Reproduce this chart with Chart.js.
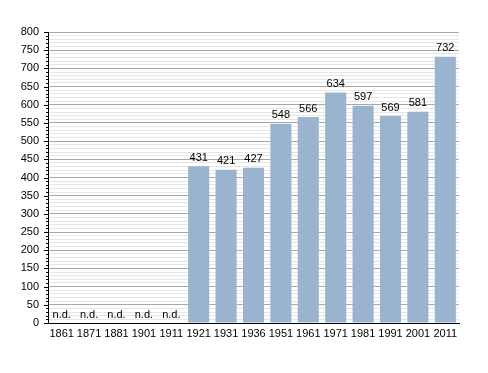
<!DOCTYPE html>
<html>
<head>
<meta charset="utf-8">
<script src="https://cdn.jsdelivr.net/npm/chart.js@4/dist/chart.umd.min.js"></script>
<style>
html,body{margin:0;padding:0;background:#fff;}
#wrap{width:488px;height:373px;}
</style>
</head>
<body>
<div id="wrap"><canvas id="c" width="488" height="373"></canvas></div>
<script>
const categories = ['1861','1871','1881','1901','1911','1921','1931','1936','1951','1961','1971','1981','1991','2001','2011'];
const population = [null,null,null,null,null,431,421,427,548,566,634,597,569,581,732];
const missingLabel = 'n.d.';
const yMax = 800;
const yMajorStep = 50;
const yMinorStep = 10;

const FONT = '"Liberation Sans", Arial, sans-serif';

const labelPlugin = {
  id: 'valueLabels',
  afterDatasetsDraw(chart) {
    const ctx = chart.ctx;
    const meta = chart.getDatasetMeta(0);
    const xs = chart.scales.x, ys = chart.scales.y;
    ctx.save();
    ctx.font = '11px ' + FONT;
    ctx.fillStyle = '#000';
    ctx.textAlign = 'center';
    ctx.textBaseline = 'bottom';
    population.forEach((v, i) => {
      if (v === null) {
        ctx.fillText(missingLabel, xs.getPixelForValue(i), ys.getPixelForValue(0) - 3);
      } else {
        const el = meta.data[i];
        ctx.fillText(String(v), el.x, el.y - 3);
      }
    });
    ctx.restore();
  }
};

const tickPlugin = {
  id: 'yTicks',
  afterDraw(chart) {
    const ctx = chart.ctx;
    const ys = chart.scales.y;
    const x0 = chart.chartArea.left;
    ctx.save();
    ctx.strokeStyle = '#000';
    ctx.lineWidth = 1;
    ys.ticks.forEach(t => {
      const y = Math.round(ys.getPixelForValue(t.value)) + 0.5;
      const len = (t.value % yMajorStep === 0) ? 4 : 2;
      ctx.beginPath();
      ctx.moveTo(x0 - len, y);
      ctx.lineTo(x0, y);
      ctx.stroke();
    });
    ctx.restore();
  }
};

new Chart(document.getElementById('c'), {
  type: 'bar',
  data: {
    labels: categories,
    datasets: [{
      data: population,
      backgroundColor: '#9ab3cf',
      borderWidth: 0,
      barPercentage: 0.77,
      categoryPercentage: 1.0
    }]
  },
  options: {
    responsive: false,
    animation: false,
    devicePixelRatio: 1,
    layout: { padding: { left: 0, right: 29, top: 32, bottom: 30 } },
    plugins: { legend: { display: false }, tooltip: { enabled: false } },
    scales: {
      x: {
        grid: { display: false, drawTicks: false },
        border: { display: true, color: '#000', width: 1 },
        ticks: { color: '#000', font: { family: FONT, size: 11 }, padding: 4, maxRotation: 0, autoSkip: false },
        afterFit(s) { s.height = 20; }
      },
      y: {
        min: 0,
        max: yMax,
        grid: {
          drawTicks: false,
          color: ctx => (ctx.tick && ctx.tick.value % yMajorStep === 0) ? '#a8a8a8' : '#e6e6e6',
          lineWidth: 1
        },
        border: { display: true, color: '#000', width: 1 },
        ticks: {
          stepSize: yMinorStep,
          autoSkip: false,
          color: '#000',
          font: { family: FONT, size: 11 },
          padding: 9,
          callback: v => (v % yMajorStep === 0) ? String(v) : ''
        },
        afterFit(s) { s.width = 48; }
      }
    }
  },
  plugins: [labelPlugin, tickPlugin]
});
</script>
</body>
</html>
